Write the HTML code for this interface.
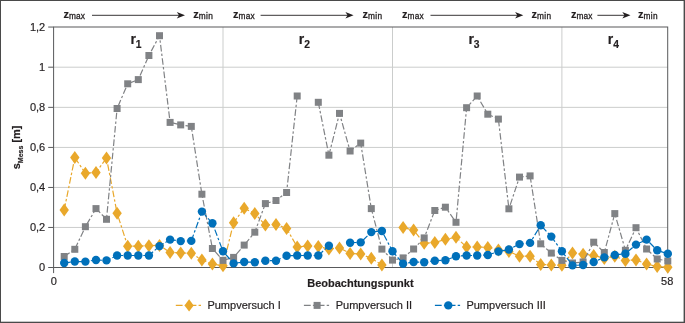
<!DOCTYPE html>
<html lang="de"><head><meta charset="utf-8"><title>Pumpversuch</title>
<style>html,body{margin:0;padding:0;background:#fff;width:685px;height:323px;overflow:hidden}</style></head>
<body>
<svg width="685" height="323" viewBox="0 0 685 323" style="position:absolute;left:0;top:0">
<rect x="0" y="0" width="685" height="323" fill="#fff"/>
<g stroke="#cbcdcc" stroke-width="1"><line x1="53.6" y1="67.20" x2="667.7" y2="67.20"/><line x1="53.6" y1="107.35" x2="667.7" y2="107.35"/><line x1="53.6" y1="147.42" x2="667.7" y2="147.42"/><line x1="53.6" y1="187.45" x2="667.7" y2="187.45"/><line x1="53.6" y1="227.45" x2="667.7" y2="227.45"/><line x1="223.0" y1="27.0" x2="223.0" y2="267.5"/><line x1="392.5" y1="27.0" x2="392.5" y2="267.5"/><line x1="561.9" y1="27.0" x2="561.9" y2="267.5"/></g>
<g stroke="#58595b" stroke-width="1"><line x1="48.2" y1="27.05" x2="53.6" y2="27.05"/><line x1="48.2" y1="67.20" x2="53.6" y2="67.20"/><line x1="48.2" y1="107.35" x2="53.6" y2="107.35"/><line x1="48.2" y1="147.42" x2="53.6" y2="147.42"/><line x1="48.2" y1="187.45" x2="53.6" y2="187.45"/><line x1="48.2" y1="227.45" x2="53.6" y2="227.45"/><line x1="48.2" y1="267.50" x2="53.6" y2="267.50"/><line x1="53.6" y1="267.5" x2="53.6" y2="273.1"/><line x1="667.7" y1="267.5" x2="667.7" y2="273.1"/></g>
<rect x="53.6" y="27.0" width="614.1" height="240.5" fill="none" stroke="#58595b" stroke-width="1"/>
<polyline points="64.2,209.9 74.8,157.6 85.4,173.2 96.0,172.5 106.5,158.0 117.1,213.2 127.7,246.2 138.3,246.2 148.9,245.7 159.5,245.4 170.1,252.4 180.7,252.9 191.3,253.2 201.9,259.9 212.4,264.1 223.0,265.8 233.6,222.7 244.2,208.3 254.8,213.5 265.4,225.1 276.0,224.4 286.6,228.4 297.2,247.0 307.7,245.9 318.3,246.6 328.9,248.9 339.5,248.0 350.1,253.4 360.7,254.0 371.3,258.3 381.9,265.0" fill="none" stroke="#E9A82B" stroke-width="1.2" stroke-dasharray="6.6 2.2 2.4 2.2"/>
<polyline points="403.1,227.6 413.6,230.1 424.2,243.3 434.8,242.5 445.4,239.3 456.0,237.3 466.6,247.0 477.2,247.0 487.8,247.4 498.4,249.9 508.9,251.4 519.5,256.2 530.1,256.2 540.7,264.4 551.3,264.9 561.9,265.2 572.5,253.0 583.1,254.2 593.7,255.4 604.3,258.4 614.8,256.2 625.4,260.4 636.0,259.9 646.6,263.9 657.2,266.6 667.8,267.2" fill="none" stroke="#E9A82B" stroke-width="1.2" stroke-dasharray="6.6 2.2 2.4 2.2"/>

<g fill="#E9A82B"><path d="M64.2 203.4l4.7 6.5l-4.7 6.5l-4.7-6.5z"/><path d="M74.8 151.1l4.7 6.5l-4.7 6.5l-4.7-6.5z"/><path d="M85.4 166.7l4.7 6.5l-4.7 6.5l-4.7-6.5z"/><path d="M96.0 166.0l4.7 6.5l-4.7 6.5l-4.7-6.5z"/><path d="M106.5 151.5l4.7 6.5l-4.7 6.5l-4.7-6.5z"/><path d="M117.1 206.7l4.7 6.5l-4.7 6.5l-4.7-6.5z"/><path d="M127.7 239.7l4.7 6.5l-4.7 6.5l-4.7-6.5z"/><path d="M138.3 239.7l4.7 6.5l-4.7 6.5l-4.7-6.5z"/><path d="M148.9 239.2l4.7 6.5l-4.7 6.5l-4.7-6.5z"/><path d="M159.5 238.9l4.7 6.5l-4.7 6.5l-4.7-6.5z"/><path d="M170.1 245.9l4.7 6.5l-4.7 6.5l-4.7-6.5z"/><path d="M180.7 246.4l4.7 6.5l-4.7 6.5l-4.7-6.5z"/><path d="M191.3 246.7l4.7 6.5l-4.7 6.5l-4.7-6.5z"/><path d="M201.9 253.4l4.7 6.5l-4.7 6.5l-4.7-6.5z"/><path d="M212.4 257.6l4.7 6.5l-4.7 6.5l-4.7-6.5z"/><path d="M223.0 259.3l4.7 6.5l-4.7 6.5l-4.7-6.5z"/><path d="M233.6 216.2l4.7 6.5l-4.7 6.5l-4.7-6.5z"/><path d="M244.2 201.8l4.7 6.5l-4.7 6.5l-4.7-6.5z"/><path d="M254.8 207.0l4.7 6.5l-4.7 6.5l-4.7-6.5z"/><path d="M265.4 218.6l4.7 6.5l-4.7 6.5l-4.7-6.5z"/><path d="M276.0 217.9l4.7 6.5l-4.7 6.5l-4.7-6.5z"/><path d="M286.6 221.9l4.7 6.5l-4.7 6.5l-4.7-6.5z"/><path d="M297.2 240.5l4.7 6.5l-4.7 6.5l-4.7-6.5z"/><path d="M307.7 239.4l4.7 6.5l-4.7 6.5l-4.7-6.5z"/><path d="M318.3 240.1l4.7 6.5l-4.7 6.5l-4.7-6.5z"/><path d="M328.9 242.4l4.7 6.5l-4.7 6.5l-4.7-6.5z"/><path d="M339.5 241.5l4.7 6.5l-4.7 6.5l-4.7-6.5z"/><path d="M350.1 246.9l4.7 6.5l-4.7 6.5l-4.7-6.5z"/><path d="M360.7 247.5l4.7 6.5l-4.7 6.5l-4.7-6.5z"/><path d="M371.3 251.8l4.7 6.5l-4.7 6.5l-4.7-6.5z"/><path d="M381.9 258.5l4.7 6.5l-4.7 6.5l-4.7-6.5z"/><path d="M403.1 221.1l4.7 6.5l-4.7 6.5l-4.7-6.5z"/><path d="M413.6 223.6l4.7 6.5l-4.7 6.5l-4.7-6.5z"/><path d="M424.2 236.8l4.7 6.5l-4.7 6.5l-4.7-6.5z"/><path d="M434.8 236.0l4.7 6.5l-4.7 6.5l-4.7-6.5z"/><path d="M445.4 232.8l4.7 6.5l-4.7 6.5l-4.7-6.5z"/><path d="M456.0 230.8l4.7 6.5l-4.7 6.5l-4.7-6.5z"/><path d="M466.6 240.5l4.7 6.5l-4.7 6.5l-4.7-6.5z"/><path d="M477.2 240.5l4.7 6.5l-4.7 6.5l-4.7-6.5z"/><path d="M487.8 240.9l4.7 6.5l-4.7 6.5l-4.7-6.5z"/><path d="M498.4 243.4l4.7 6.5l-4.7 6.5l-4.7-6.5z"/><path d="M508.9 244.9l4.7 6.5l-4.7 6.5l-4.7-6.5z"/><path d="M519.5 249.7l4.7 6.5l-4.7 6.5l-4.7-6.5z"/><path d="M530.1 249.7l4.7 6.5l-4.7 6.5l-4.7-6.5z"/><path d="M540.7 257.9l4.7 6.5l-4.7 6.5l-4.7-6.5z"/><path d="M551.3 258.4l4.7 6.5l-4.7 6.5l-4.7-6.5z"/><path d="M561.9 258.7l4.7 6.5l-4.7 6.5l-4.7-6.5z"/><path d="M572.5 246.5l4.7 6.5l-4.7 6.5l-4.7-6.5z"/><path d="M583.1 247.7l4.7 6.5l-4.7 6.5l-4.7-6.5z"/><path d="M593.7 248.9l4.7 6.5l-4.7 6.5l-4.7-6.5z"/><path d="M604.3 251.9l4.7 6.5l-4.7 6.5l-4.7-6.5z"/><path d="M614.8 249.7l4.7 6.5l-4.7 6.5l-4.7-6.5z"/><path d="M625.4 253.9l4.7 6.5l-4.7 6.5l-4.7-6.5z"/><path d="M636.0 253.4l4.7 6.5l-4.7 6.5l-4.7-6.5z"/><path d="M646.6 257.4l4.7 6.5l-4.7 6.5l-4.7-6.5z"/><path d="M657.2 260.1l4.7 6.5l-4.7 6.5l-4.7-6.5z"/><path d="M667.8 260.7l4.7 6.5l-4.7 6.5l-4.7-6.5z"/></g>
<polyline points="64.2,256.5 74.8,249.3 85.4,226.7 96.0,208.6 106.5,219.3 117.1,108.5 127.7,83.8 138.3,79.6 148.9,55.5 159.5,35.7 170.1,122.4 180.7,124.9 191.3,126.4 201.9,194.2 212.4,248.5 223.0,260.4 233.6,257.4 244.2,245.1 254.8,232.2 265.4,203.6 276.0,200.5 286.6,192.5 297.2,96.0" fill="none" stroke="#808285" stroke-width="1.2" stroke-dasharray="6.6 2.2 2.4 2.2"/>
<polyline points="318.3,102.3 328.9,155.2 339.5,113.4 350.1,151.0 360.7,143.1 371.3,208.6 381.9,249.1 392.5,260.1 403.1,257.9 413.6,249.0 424.2,237.9 434.8,210.5 445.4,207.2 456.0,222.3 466.6,107.7 477.2,96.0 487.8,114.2 498.4,119.1 508.9,208.8 519.5,177.1 530.1,175.9 540.7,243.8 551.3,253.1 561.9,260.4 572.5,263.0 583.1,262.0 593.7,242.2 604.3,252.5 614.8,213.6 625.4,250.3 636.0,227.7 646.6,249.0 657.2,259.0 667.8,261.0" fill="none" stroke="#808285" stroke-width="1.2" stroke-dasharray="6.6 2.2 2.4 2.2"/>

<g fill="#808285"><rect x="60.7" y="253.0" width="7" height="7"/><rect x="71.3" y="245.8" width="7" height="7"/><rect x="81.9" y="223.2" width="7" height="7"/><rect x="92.5" y="205.1" width="7" height="7"/><rect x="103.0" y="215.8" width="7" height="7"/><rect x="113.6" y="105.0" width="7" height="7"/><rect x="124.2" y="80.3" width="7" height="7"/><rect x="134.8" y="76.1" width="7" height="7"/><rect x="145.4" y="52.0" width="7" height="7"/><rect x="156.0" y="32.2" width="7" height="7"/><rect x="166.6" y="118.9" width="7" height="7"/><rect x="177.2" y="121.4" width="7" height="7"/><rect x="187.8" y="122.9" width="7" height="7"/><rect x="198.4" y="190.7" width="7" height="7"/><rect x="208.9" y="245.0" width="7" height="7"/><rect x="219.5" y="256.9" width="7" height="7"/><rect x="230.1" y="253.9" width="7" height="7"/><rect x="240.7" y="241.6" width="7" height="7"/><rect x="251.3" y="228.7" width="7" height="7"/><rect x="261.9" y="200.1" width="7" height="7"/><rect x="272.5" y="197.0" width="7" height="7"/><rect x="283.1" y="189.0" width="7" height="7"/><rect x="293.7" y="92.5" width="7" height="7"/><rect x="314.8" y="98.8" width="7" height="7"/><rect x="325.4" y="151.7" width="7" height="7"/><rect x="336.0" y="109.9" width="7" height="7"/><rect x="346.6" y="147.5" width="7" height="7"/><rect x="357.2" y="139.6" width="7" height="7"/><rect x="367.8" y="205.1" width="7" height="7"/><rect x="378.4" y="245.6" width="7" height="7"/><rect x="389.0" y="256.6" width="7" height="7"/><rect x="399.6" y="254.4" width="7" height="7"/><rect x="410.1" y="245.5" width="7" height="7"/><rect x="420.7" y="234.4" width="7" height="7"/><rect x="431.3" y="207.0" width="7" height="7"/><rect x="441.9" y="203.7" width="7" height="7"/><rect x="452.5" y="218.8" width="7" height="7"/><rect x="463.1" y="104.2" width="7" height="7"/><rect x="473.7" y="92.5" width="7" height="7"/><rect x="484.3" y="110.7" width="7" height="7"/><rect x="494.9" y="115.6" width="7" height="7"/><rect x="505.4" y="205.3" width="7" height="7"/><rect x="516.0" y="173.6" width="7" height="7"/><rect x="526.6" y="172.4" width="7" height="7"/><rect x="537.2" y="240.3" width="7" height="7"/><rect x="547.8" y="249.6" width="7" height="7"/><rect x="558.4" y="256.9" width="7" height="7"/><rect x="569.0" y="259.5" width="7" height="7"/><rect x="579.6" y="258.5" width="7" height="7"/><rect x="590.2" y="238.7" width="7" height="7"/><rect x="600.8" y="249.0" width="7" height="7"/><rect x="611.3" y="210.1" width="7" height="7"/><rect x="621.9" y="246.8" width="7" height="7"/><rect x="632.5" y="224.2" width="7" height="7"/><rect x="643.1" y="245.5" width="7" height="7"/><rect x="653.7" y="255.5" width="7" height="7"/><rect x="664.3" y="257.5" width="7" height="7"/></g>
<polyline points="64.2,263.0 74.8,261.5 85.4,261.6 96.0,260.0 106.5,260.4 117.1,255.5 127.7,255.5 138.3,255.5 148.9,255.5 159.5,246.1 170.1,239.6 180.7,241.1 191.3,240.9 201.9,211.6 212.4,223.2 223.0,251.3 233.6,263.4 244.2,262.0 254.8,262.2 265.4,260.7 276.0,260.7 286.6,255.7 297.2,255.5 307.7,255.5 318.3,255.5 328.9,245.7" fill="none" stroke="#0070BA" stroke-width="1.2" stroke-dasharray="6.6 2.2 2.4 2.2"/>
<polyline points="350.1,242.7 360.7,242.4 371.3,232.1 381.9,231.0 392.5,251.3 403.1,263.7 413.6,262.0 424.2,262.2 434.8,260.7 445.4,260.2 456.0,256.3 466.6,255.5 477.2,255.5 487.8,255.0 498.4,251.5 508.9,249.5 519.5,244.1 530.1,242.9 540.7,225.2 551.3,236.6 561.9,251.3 572.5,265.4 583.1,265.0 593.7,262.0 604.3,257.4 614.8,255.0 625.4,253.8 636.0,244.6 646.6,239.6 657.2,250.3 667.8,253.8" fill="none" stroke="#0070BA" stroke-width="1.2" stroke-dasharray="6.6 2.2 2.4 2.2"/>

<g fill="#0070BA"><circle cx="64.2" cy="263.0" r="4.2"/><circle cx="74.8" cy="261.5" r="4.2"/><circle cx="85.4" cy="261.6" r="4.2"/><circle cx="96.0" cy="260.0" r="4.2"/><circle cx="106.5" cy="260.4" r="4.2"/><circle cx="117.1" cy="255.5" r="4.2"/><circle cx="127.7" cy="255.5" r="4.2"/><circle cx="138.3" cy="255.5" r="4.2"/><circle cx="148.9" cy="255.5" r="4.2"/><circle cx="159.5" cy="246.1" r="4.2"/><circle cx="170.1" cy="239.6" r="4.2"/><circle cx="180.7" cy="241.1" r="4.2"/><circle cx="191.3" cy="240.9" r="4.2"/><circle cx="201.9" cy="211.6" r="4.2"/><circle cx="212.4" cy="223.2" r="4.2"/><circle cx="223.0" cy="251.3" r="4.2"/><circle cx="233.6" cy="263.4" r="4.2"/><circle cx="244.2" cy="262.0" r="4.2"/><circle cx="254.8" cy="262.2" r="4.2"/><circle cx="265.4" cy="260.7" r="4.2"/><circle cx="276.0" cy="260.7" r="4.2"/><circle cx="286.6" cy="255.7" r="4.2"/><circle cx="297.2" cy="255.5" r="4.2"/><circle cx="307.7" cy="255.5" r="4.2"/><circle cx="318.3" cy="255.5" r="4.2"/><circle cx="328.9" cy="245.7" r="4.2"/><circle cx="350.1" cy="242.7" r="4.2"/><circle cx="360.7" cy="242.4" r="4.2"/><circle cx="371.3" cy="232.1" r="4.2"/><circle cx="381.9" cy="231.0" r="4.2"/><circle cx="392.5" cy="251.3" r="4.2"/><circle cx="403.1" cy="263.7" r="4.2"/><circle cx="413.6" cy="262.0" r="4.2"/><circle cx="424.2" cy="262.2" r="4.2"/><circle cx="434.8" cy="260.7" r="4.2"/><circle cx="445.4" cy="260.2" r="4.2"/><circle cx="456.0" cy="256.3" r="4.2"/><circle cx="466.6" cy="255.5" r="4.2"/><circle cx="477.2" cy="255.5" r="4.2"/><circle cx="487.8" cy="255.0" r="4.2"/><circle cx="498.4" cy="251.5" r="4.2"/><circle cx="508.9" cy="249.5" r="4.2"/><circle cx="519.5" cy="244.1" r="4.2"/><circle cx="530.1" cy="242.9" r="4.2"/><circle cx="540.7" cy="225.2" r="4.2"/><circle cx="551.3" cy="236.6" r="4.2"/><circle cx="561.9" cy="251.3" r="4.2"/><circle cx="572.5" cy="265.4" r="4.2"/><circle cx="583.1" cy="265.0" r="4.2"/><circle cx="593.7" cy="262.0" r="4.2"/><circle cx="604.3" cy="257.4" r="4.2"/><circle cx="614.8" cy="255.0" r="4.2"/><circle cx="625.4" cy="253.8" r="4.2"/><circle cx="636.0" cy="244.6" r="4.2"/><circle cx="646.6" cy="239.6" r="4.2"/><circle cx="657.2" cy="250.3" r="4.2"/><circle cx="667.8" cy="253.8" r="4.2"/></g>
<g font-family="'Liberation Sans', Arial, sans-serif" font-size="11" fill="#231f20" stroke="#231f20" stroke-width="0.18"><text x="45.2" y="30.9" text-anchor="end">1,2</text><text x="45.2" y="71.1" text-anchor="end">1</text><text x="45.2" y="111.2" text-anchor="end">0,8</text><text x="45.2" y="151.3" text-anchor="end">0,6</text><text x="45.2" y="191.3" text-anchor="end">0,4</text><text x="45.2" y="231.3" text-anchor="end">0,2</text><text x="45.2" y="271.4" text-anchor="end">0</text><text x="53.8" y="285.2" text-anchor="middle">0</text><text x="667.2" y="285.2" text-anchor="middle">58</text><text x="360.4" y="286.5" text-anchor="middle" font-weight="bold">Beobachtungspunkt</text><text x="207.4" y="309">Pumpversuch I</text><text x="335.7" y="309">Pumpversuch II</text><text x="466.4" y="309">Pumpversuch III</text><text transform="translate(20.4 169.3) rotate(-90)" font-weight="bold">s<tspan font-size="7" dy="2.8">Mess</tspan><tspan dy="-2.8"> [m]</tspan></text><text x="130.4" y="44" font-weight="bold" font-size="14">r<tspan font-size="10.3" dy="3.7">1</tspan></text><text x="298.8" y="44" font-weight="bold" font-size="14">r<tspan font-size="10.3" dy="3.7">2</tspan></text><text x="468.4" y="44" font-weight="bold" font-size="14">r<tspan font-size="10.3" dy="3.7">3</tspan></text><text x="607.8" y="44" font-weight="bold" font-size="14">r<tspan font-size="10.3" dy="3.7">4</tspan></text><text x="63.5" y="17.7" font-weight="bold">z<tspan font-weight="normal" font-size="8.3" dy="1.6" letter-spacing="0.15" stroke-width="0.3">max</tspan></text><text x="233.1" y="17.7" font-weight="bold">z<tspan font-weight="normal" font-size="8.3" dy="1.6" letter-spacing="0.15" stroke-width="0.3">max</tspan></text><text x="402.1" y="17.7" font-weight="bold">z<tspan font-weight="normal" font-size="8.3" dy="1.6" letter-spacing="0.15" stroke-width="0.3">max</tspan></text><text x="570.9" y="17.7" font-weight="bold">z<tspan font-weight="normal" font-size="8.3" dy="1.6" letter-spacing="0.15" stroke-width="0.3">max</tspan></text><text x="193.2" y="17.7" font-weight="bold">z<tspan font-weight="normal" font-size="8.3" dy="1.6" letter-spacing="0.35" stroke-width="0.3">min</tspan></text><text x="362.5" y="17.7" font-weight="bold">z<tspan font-weight="normal" font-size="8.3" dy="1.6" letter-spacing="0.35" stroke-width="0.3">min</tspan></text><text x="531.6" y="17.7" font-weight="bold">z<tspan font-weight="normal" font-size="8.3" dy="1.6" letter-spacing="0.35" stroke-width="0.3">min</tspan></text><text x="638.0" y="17.7" font-weight="bold">z<tspan font-weight="normal" font-size="8.3" dy="1.6" letter-spacing="0.35" stroke-width="0.3">min</tspan></text></g>
<g stroke="#231f20" stroke-width="0.9" fill="#231f20"><line x1="92" y1="15.3" x2="181" y2="15.3"/><path d="M185 15.3l-8.2 -3.2l2.2 3.2l-2.2 3.2z" stroke="none"/><line x1="260.6" y1="15.3" x2="349.6" y2="15.3"/><path d="M353.6 15.3l-8.2 -3.2l2.2 3.2l-2.2 3.2z" stroke="none"/><line x1="430.5" y1="15.3" x2="519.3" y2="15.3"/><path d="M523.3 15.3l-8.2 -3.2l2.2 3.2l-2.2 3.2z" stroke="none"/><line x1="597.4" y1="15.3" x2="626.5" y2="15.3"/><path d="M630.5 15.3l-8.2 -3.2l2.2 3.2l-2.2 3.2z" stroke="none"/></g>
<line x1="175.8" y1="305.4" x2="201.0" y2="305.4" stroke="#E9A82B" stroke-width="1.1" stroke-dasharray="6.8 2.2 2.6 2.2"/><path fill="#E9A82B" d="M189.1 299.3l4.6 6.1l-4.6 6.1l-4.6-6.1z"/>
<line x1="303.9" y1="305.4" x2="329.09999999999997" y2="305.4" stroke="#808285" stroke-width="1.1" stroke-dasharray="6.8 2.2 2.6 2.2"/><rect fill="#808285" x="313.6" y="301.9" width="7" height="7"/>
<line x1="434.9" y1="305.4" x2="460.09999999999997" y2="305.4" stroke="#0070BA" stroke-width="1.1" stroke-dasharray="6.8 2.2 2.6 2.2"/><circle fill="#0070BA" cx="448.3" cy="305.4" r="4.2"/>
<rect x="0.5" y="0.5" width="684" height="322" fill="none" stroke="#4a4a4a" stroke-width="1"/>
<rect x="683.6" y="0" width="1.4" height="323" fill="#4a4a4a"/><rect x="0" y="321.7" width="685" height="1.3" fill="#4a4a4a"/>
</svg>
</body></html>
